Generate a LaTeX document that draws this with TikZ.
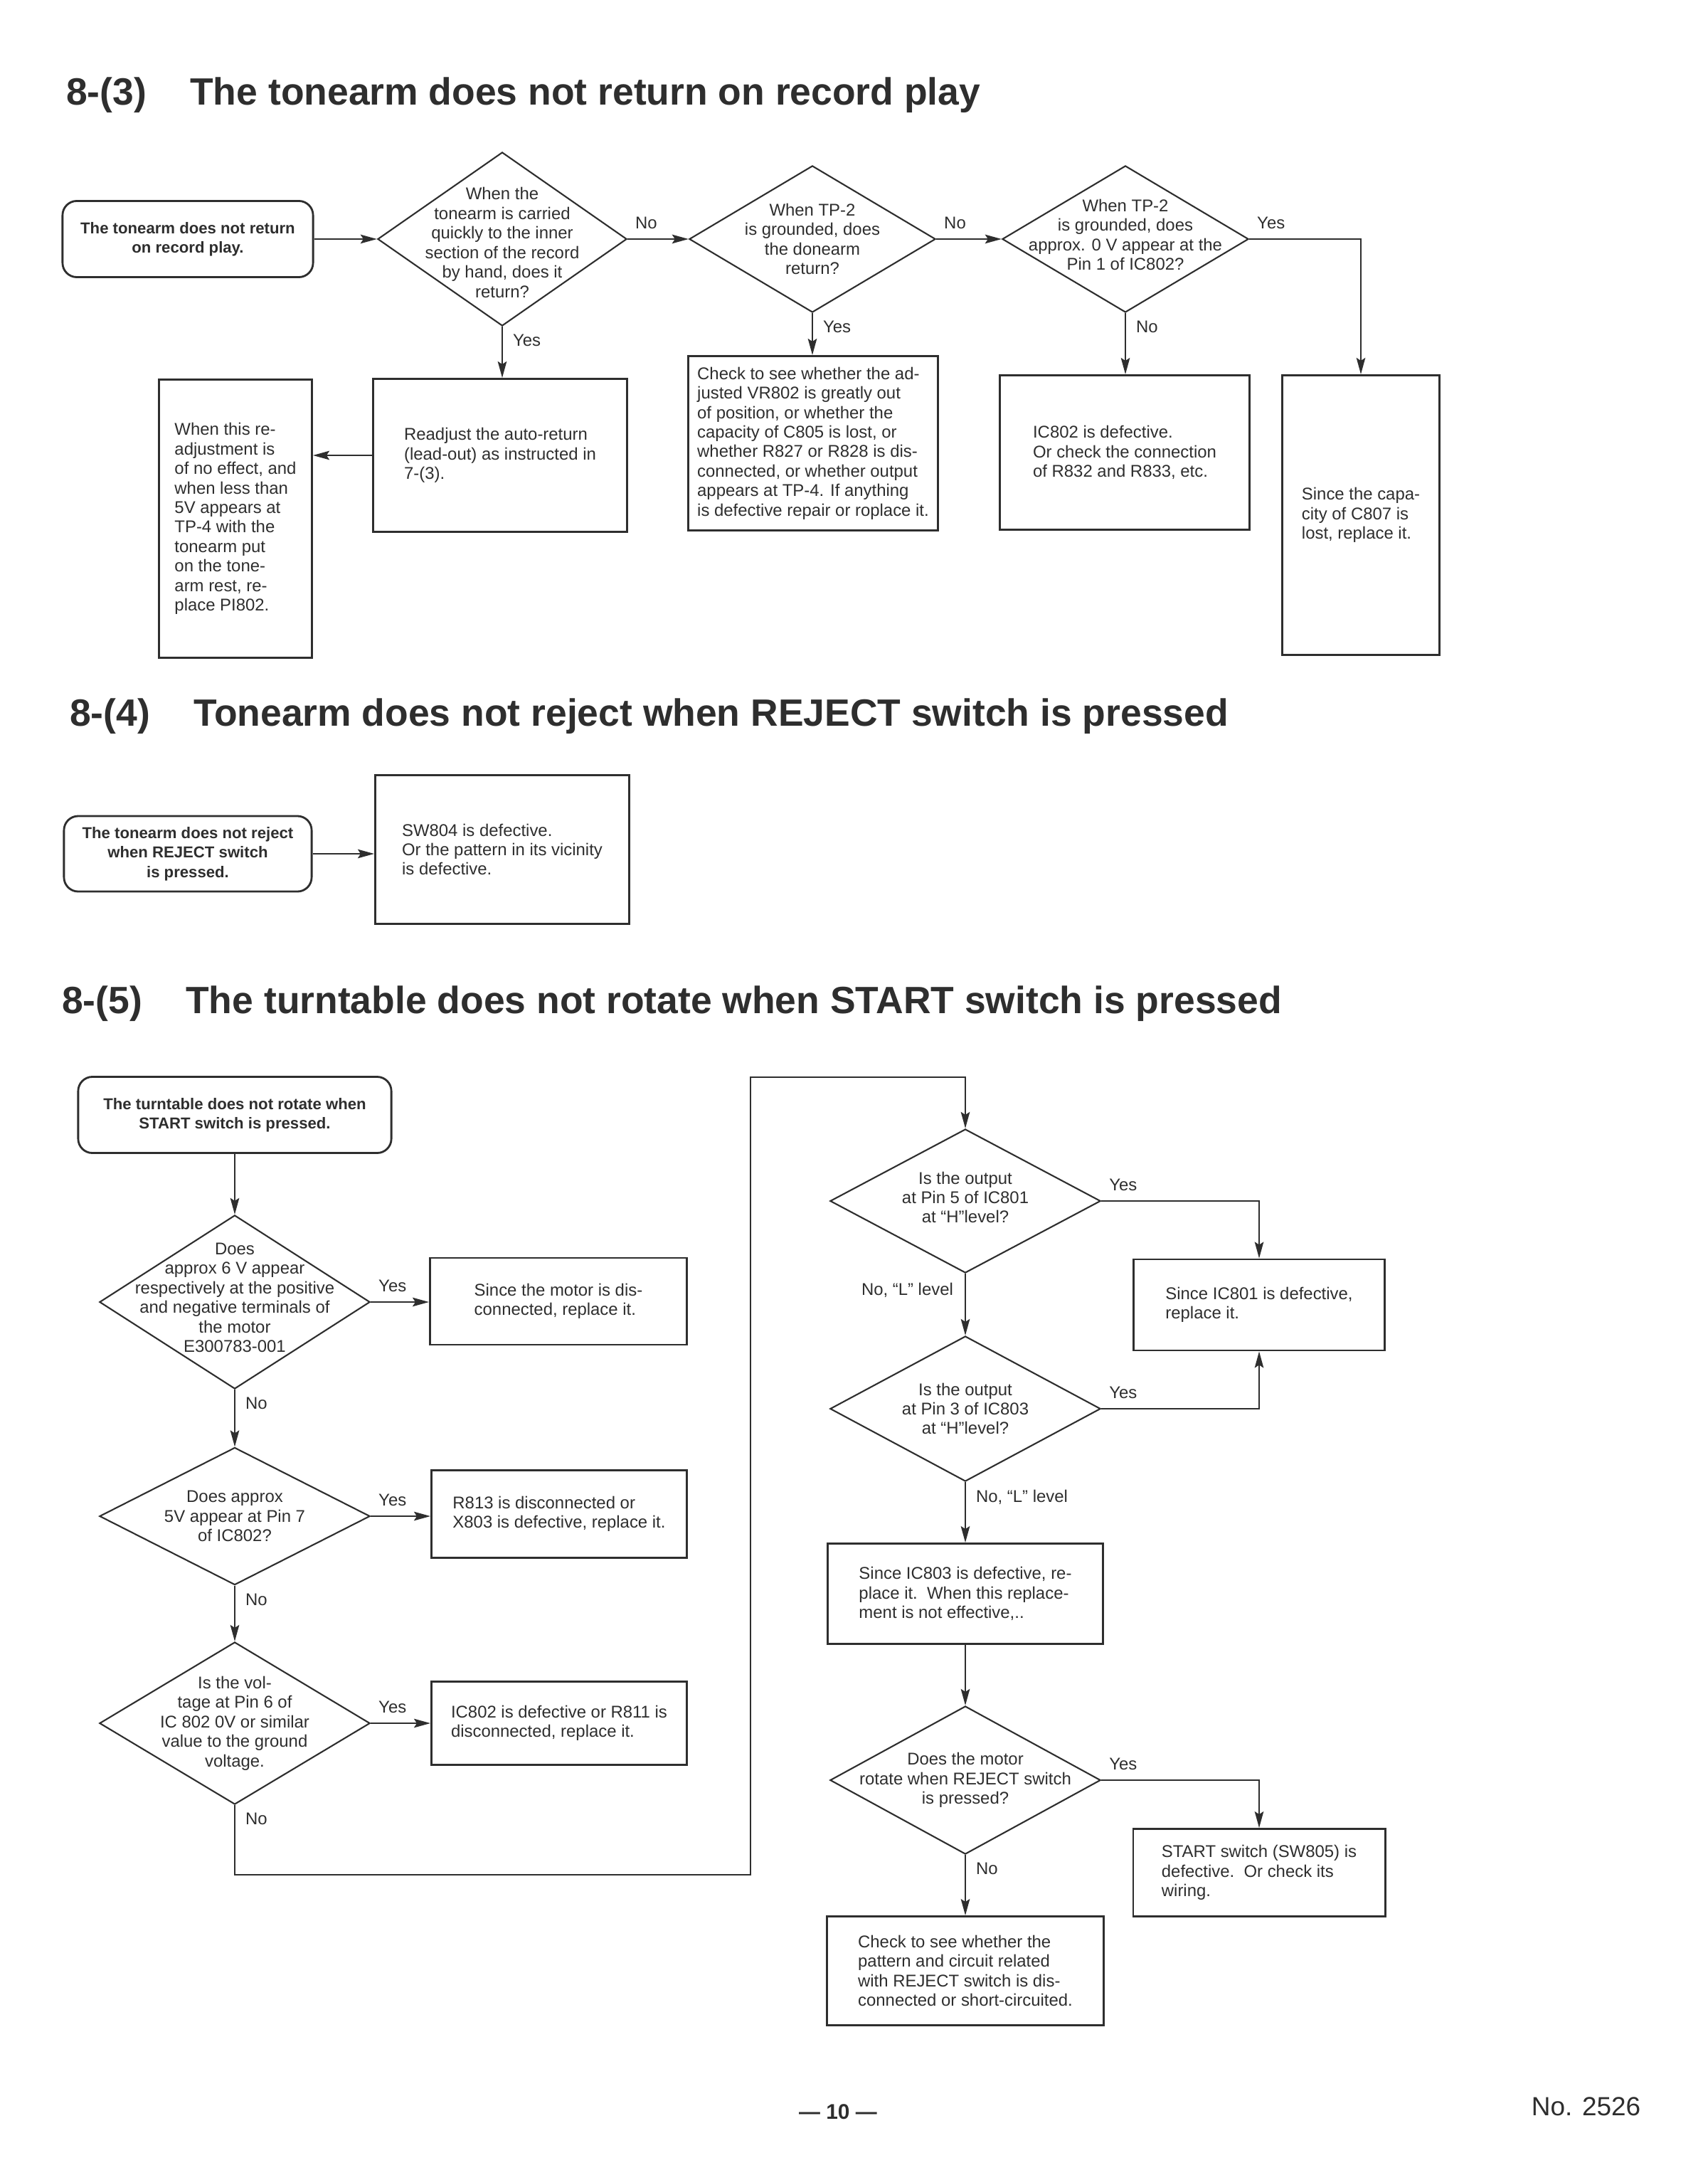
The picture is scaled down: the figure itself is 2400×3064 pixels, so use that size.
\documentclass[tikz,border=0pt]{standalone}
\usepackage{fontspec}
\setmainfont{Liberation Sans}
\usetikzlibrary{arrows.meta}
\usetikzlibrary{shapes.geometric}
\usetikzlibrary{positioning}

\definecolor{ink}{gray}{0.18}

\tikzset{
  startbox/.style={draw=ink, line width=0.8pt, rounded corners=0.2cm, inner sep=0pt, align=center,
    font=\fontsize{6.3}{7.8}\selectfont\bfseries},
  decision/.style={draw=ink, line width=0.6pt, shape=diamond, inner sep=0pt},
  qtext/.style={align=center, inner sep=0pt},
  result/.style={draw=ink, line width=0.8pt, inner sep=0pt, align=left},
  rlab/.style={anchor=south west, inner sep=0pt, xshift=0.1cm, yshift=0.13cm},
  dlab/.style={anchor=north west, inner sep=0pt, xshift=0.14cm, yshift=-0.1cm},
  llab/.style={anchor=north east, inner sep=0pt, xshift=-0.16cm, yshift=-0.12cm},
  heading/.style={anchor=base west, inner sep=0pt, font=\fontsize{15.2}{18}\selectfont\bfseries},
}

\begin{document}
\begin{tikzpicture}[x=0.01cm, y=-0.01cm, >={Stealth[length=2.3mm,width=1.25mm,inset=0.4mm]},
    font=\fontsize{6.8}{7.8}\selectfont, color=ink, line width=0.6pt]
\fill[white] (0,0) rectangle (2400,3064);

% 8-(3)
\node[heading] (h3) at (92,148) {8-(3)\hspace{1.15em}The tonearm does not return on record play};
\node[startbox, minimum width=3.52cm, minimum height=1.07cm] (s3) at (264,336) {The tonearm does not return\\on record play.};
\node[decision, minimum width=3.5cm, minimum height=2.44cm] (q31) at (706,336) {};
\node[qtext] (q31t) at (706,341) {When the\\tonearm is carried\\quickly to the inner\\section of the record\\by hand, does it\\return?};
\node[decision, minimum width=3.46cm, minimum height=2.06cm] (q32) at (1142,336) {};
\node[qtext] (q32t) at (q32) {When TP-2\\is grounded, does\\the donearm\\return?};
\node[decision, minimum width=3.46cm, minimum height=2.06cm] (q33) at (1582,336) {};
\node[qtext] (q33t) at (1582,330) {When TP-2\\is grounded, does\\approx. 0 V appear at the\\Pin 1 of IC802?};

\node[result, minimum width=3.56cm, minimum height=2.15cm] (r31) at (703,640) {Readjust the auto-return\\(lead-out) as instructed in\\7-(3).};
\node[result, minimum width=2.15cm, minimum height=3.9cm] (r32) at (331,729) {When this re-\\adjustment is\\of no effect, and\\when less than\\5V appears at\\TP-4 with the\\tonearm put\\on the tone-\\arm rest, re-\\place PI802.};
\node[result, minimum width=3.51cm, minimum height=2.45cm] (r33) at (1143,623) {Check to see whether the ad-\\justed VR802 is greatly out\\of position, or whether the\\capacity of C805 is lost, or\\whether R827 or R828 is dis-\\connected, or whether output\\appears at TP-4. If anything\\is defective repair or roplace it.};
\node[result, minimum width=3.51cm, minimum height=2.17cm] (r34) at (1581,636) {IC802 is defective.\\Or check the connection\\of R832 and R833, etc.};
\node[result, minimum width=2.21cm, minimum height=3.93cm] (r35) at (1913,724) {Since the capa-\\city of C807 is\\lost, replace it.};

\draw[->] (s3.east) -- (q31.west);
\foreach \a/\b/\n in {q31/q32/n31, q32/q33/n32}
  \draw[->] (\a.east) -- node[rlab, pos=0] (\n) {No} (\b.west);
\draw[->] (q33.east) -| node[rlab, pos=0] (y33) {Yes} (r35.north);
\foreach \a/\b/\t/\n in {q31/r31/Yes/y31, q32/r33/Yes/y32, q33/r34/No/n33}
  \draw[->] (\a.south) -- node[dlab, pos=0] (\n) {\t} (\a.south |- \b.north);
\draw[->] (r31.west) -- (r31.west -| r32.east);

% 8-(4)
\node[heading] (h4) at (97,1020) {8-(4)\hspace{1.15em}Tonearm does not reject when REJECT switch is pressed};
\node[startbox, minimum width=3.48cm, minimum height=1.06cm] (s4) at (264,1200) {The tonearm does not reject\\when REJECT switch\\is pressed.};
\node[result, minimum width=3.57cm, minimum height=2.09cm] (r41) at (706,1194) {SW804 is defective.\\Or the pattern in its vicinity\\is defective.};
\draw[->] (s4.east) -- (s4.east -| r41.west);

% 8-(5)
\node[heading] (h5) at (86,1424) {8-(5)\hspace{1.15em}The turntable does not rotate when START switch is pressed};
\node[startbox, minimum width=4.4cm, minimum height=1.07cm] (s5) at (330,1567) {The turntable does not rotate when\\START switch is pressed.};

\node[decision, minimum width=3.8cm, minimum height=2.44cm] (qa) at (330,1830) {};
\node[qtext] (qat) at (330,1824) {Does\\approx 6 V appear\\respectively at the positive\\and negative terminals of\\the motor\\E300783-001};
\node[result, minimum width=3.61cm, minimum height=1.22cm] (ra) at (785,1829) {Since the motor is dis-\\connected, replace it.};
\node[decision, minimum width=3.8cm, minimum height=1.93cm] (qb) at (330,2131) {};
\node[qtext] (qbt) at (qb) {Does approx\\5V appear at Pin 7\\of IC802?};
\node[result, minimum width=3.59cm, minimum height=1.23cm] (rb) at (786,2128) {R813 is disconnected or\\X803 is defective, replace it.};
\node[decision, minimum width=3.8cm, minimum height=2.28cm] (qc) at (330,2422) {};
\node[qtext] (qct) at (qc) {Is the vol-\\tage at Pin 6 of\\IC 802 0V or similar\\value to the ground\\voltage.};
\node[result, minimum width=3.59cm, minimum height=1.17cm] (rc) at (786,2422) {IC802 is defective or R811 is\\disconnected, replace it.};

\node[decision, minimum width=3.8cm, minimum height=2.02cm] (qd) at (1357,1688) {};
\node[qtext] (qdt) at (1357,1683) {Is the output\\at Pin 5 of IC801\\at ``H''level?};
\node[result, minimum width=3.53cm, minimum height=1.28cm] (rd) at (1770,1834) {Since IC801 is defective,\\replace it.};
\node[decision, minimum width=3.8cm, minimum height=2.04cm] (qe) at (1357,1980) {};
\node[qtext] (qet) at (qe) {Is the output\\at Pin 3 of IC803\\at ``H''level?};
\node[result, minimum width=3.86cm, minimum height=1.41cm] (rf) at (1357,2240) {Since IC803 is defective, re-\\place it.\ \ When this replace-\\ment is not effective,..};
\node[decision, minimum width=3.8cm, minimum height=2.08cm] (qg) at (1357,2502) {};
\node[qtext] (qgt) at (qg) {Does the motor\\rotate when REJECT switch\\is pressed?};
\node[result, minimum width=3.54cm, minimum height=1.23cm] (rh) at (1770,2632) {START switch (SW805) is\\defective.\ \ Or check its\\wiring.};
\node[result, minimum width=3.88cm, minimum height=1.53cm] (ri) at (1357,2770) {Check to see whether the\\pattern and circuit related\\with REJECT switch is dis-\\connected or short-circuited.};

\coordinate (k1) at (1055,2635);
\coordinate (k2) at (1055,1514);

\draw[->] (s5.south) -- (qa.north);
\foreach \a/\b/\n in {qa/ra/ya, qb/rb/yb, qc/rc/yc}
  \draw[->] (\a.east) -- node[rlab, pos=0] (\n) {Yes} (\a.east -| \b.west);
\foreach \a/\b/\n in {qa/qb/na, qb/qc/nb}
  \draw[->] (\a.south) -- node[dlab, pos=0] (\n) {No} (\b.north);
\draw[->] (qc.south) |- node[dlab, pos=0] (nc) {No} (k1) -- (k2) -| (qd.north);

\foreach \a/\b/\n in {qd/rd.north/yd, qe/rd.south/ye, qg/rh.north/yg}
  \draw[->] (\a.east) -| node[rlab, pos=0] (\n) {Yes} (\b);
\draw[->] (qd.south) -- node[llab, pos=0] (nd) {No, ``L'' level} (qe.north);
\draw[->] (qe.south) -- node[dlab, pos=0] (ne) {No, ``L'' level} (rf.north);
\draw[->] (rf.south) -- (qg.north);
\draw[->] (qg.south) -- node[dlab, pos=0] (ng) {No} (ri.north);

% footer
\node[anchor=base, font=\fontsize{8.5}{10}\selectfont\bfseries] (pg) at (1178,2978) {--- 10 ---};
\node[anchor=base east, font=\fontsize{10.5}{12}\selectfont] (docno) at (2319,2973) {No. 2526};
\end{tikzpicture}
\end{document}
